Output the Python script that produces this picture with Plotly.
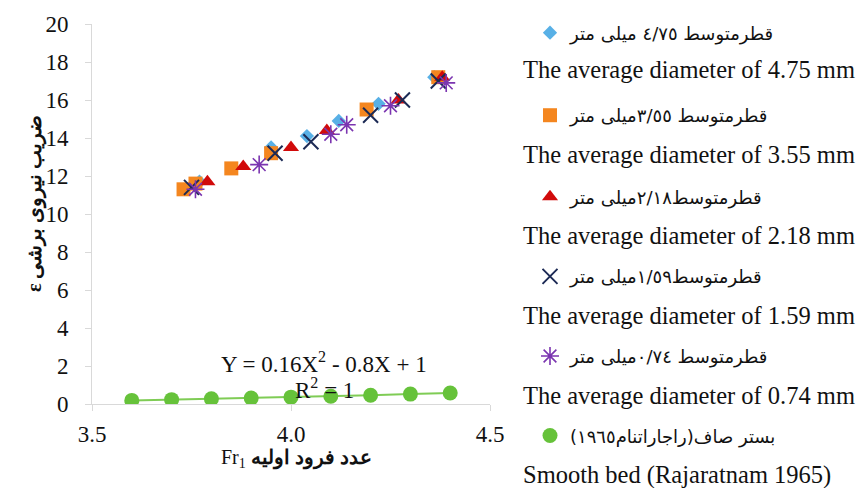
import plotly.graph_objects as go

# Shear force coefficient vs initial Froude number for each bed grain size
fr_475 = [3.77, 3.95, 4.04, 4.12, 4.22, 4.36]
eps_475 = [11.7, 13.5, 14.1, 14.9, 15.8, 17.2]

fr_355 = [3.73, 3.76, 3.85, 3.95, 4.19, 4.37]
eps_355 = [11.3, 11.6, 12.4, 13.2, 15.5, 17.2]

fr_218 = [3.79, 3.88, 4.00, 4.09, 4.27, 4.38]
eps_218 = [11.7, 12.5, 13.5, 14.4, 16.0, 17.2]

fr_159 = [3.75, 3.96, 4.05, 4.20, 4.28, 4.37]
eps_159 = [11.4, 13.2, 13.8, 15.2, 16.0, 17.0]

fr_074 = [3.76, 3.92, 4.10, 4.14, 4.25, 4.39]
eps_074 = [11.3, 12.6, 14.2, 14.7, 15.7, 16.9]

# Smooth bed (Rajaratnam 1965)
fr_smooth = [3.6, 3.7, 3.8, 3.9, 4.0, 4.1, 4.2, 4.3, 4.4]
eps_smooth = [0.19, 0.23, 0.27, 0.31, 0.36, 0.41, 0.46, 0.52, 0.58]

x_ticks = [3.5, 4.0, 4.5]
x_tick_text = ["3.5", "4.0", "4.5"]
y_ticks = [0, 2, 4, 6, 8, 10, 12, 14, 16, 18, 20]

names_fa = [
    "قطرمتوسط ٤/٧٥ میلی متر",
    "قطرمتوسط ٣/٥٥میلی متر",
    "قطرمتوسط٢/١٨میلی متر",
    "قطرمتوسط١/٥٩میلی متر",
    "قطرمتوسط ٠/٧٤میلی متر",
    "بستر صاف(راجاراتنام١٩٦٥)\u200f",
]
names_en = [
    "The average diameter of 4.75 mm",
    "The average diameter of 3.55 mm",
    "The average diameter of 2.18 mm",
    "The average diameter of 1.59 mm",
    "The average diameter of 0.74 mm",
    "Smooth bed (Rajaratnam 1965)",
]

SERIF = "Liberation Serif"
AR = "DejaVu Sans"
INK = "#111111"

fig = go.Figure()

fig.add_trace(go.Scatter(
    x=fr_475, y=eps_475, mode="markers", name=names_fa[0], legend="legend",
    marker=dict(symbol="diamond", size=11, color="#58b0e6")))
fig.add_trace(go.Scatter(
    x=fr_355, y=eps_355, mode="markers", name=names_fa[1], legend="legend2",
    marker=dict(symbol="square", size=14, color="#f4861f")))
fig.add_trace(go.Scatter(
    x=fr_218, y=eps_218, mode="markers", name=names_fa[2], legend="legend3",
    marker=dict(symbol="triangle-up", size=14, color="#d10a0a")))
fig.add_trace(go.Scatter(
    x=fr_159, y=eps_159, mode="markers", name=names_fa[3], legend="legend4",
    marker=dict(symbol="x-thin-open", size=15, color="#1c2a55",
                line=dict(width=2, color="#1c2a55"))))
fig.add_trace(go.Scatter(
    x=fr_074, y=eps_074, mode="markers", name=names_fa[4], legend="legend5",
    marker=dict(symbol="asterisk-open", size=15, color="#7b35b0",
                line=dict(width=1.6, color="#7b35b0"))))
# connecting line of the smooth-bed curve
fig.add_trace(go.Scatter(
    x=fr_smooth, y=eps_smooth, mode="lines", showlegend=False,
    line=dict(color="#7fcc55", width=2), hoverinfo="skip"))
fig.add_trace(go.Scatter(
    x=fr_smooth, y=eps_smooth, mode="markers", name=names_fa[5], legend="legend6",
    marker=dict(symbol="circle", size=15, color="#66c23a")))

# plot area spans pixels 92..490 horizontally and 22..404 vertically
L, R, T, B = 92, 490, 22, 404
W, H = 858, 488


def px_x(p):
    return (p - L) / (R - L)


def px_y(p):
    return (B - p) / (B - T)


fa_rows = [31, 114, 196, 276, 356, 436]
en_rows = [68, 153, 235, 315, 395, 475]

legends = {}
for i, yr in enumerate(fa_rows):
    key = "legend" if i == 0 else f"legend{i + 1}"
    legends[key] = dict(
        x=px_x(530), y=px_y(yr), xanchor="left", yanchor="middle",
        xref="paper", yref="paper",
        bgcolor="rgba(0,0,0,0)", borderwidth=0,
        font=dict(family=AR, size=18, color=INK),
        itemclick=False, itemdoubleclick=False,
    )

annotations = []
for txt, yr in zip(names_en, en_rows):
    annotations.append(dict(
        x=px_x(521), y=px_y(yr), xref="paper", yref="paper",
        xanchor="left", yanchor="middle", showarrow=False, text=txt,
        font=dict(family=SERIF, size=24.5, color=INK)))

# fitted curve equation
annotations.append(dict(
    x=4.083, y=2.2, xref="x", yref="y", showarrow=False,
    text="Y = 0.16X<sup>2</sup> - 0.8X + 1",
    font=dict(family=SERIF, size=23, color=INK)))
annotations.append(dict(
    x=4.083, y=0.8, xref="x", yref="y", showarrow=False,
    text="R<sup>2</sup> = 1",
    font=dict(family=SERIF, size=23, color=INK)))

# axis titles
annotations.append(dict(
    x=px_x(296), y=px_y(459), xref="paper", yref="paper",
    xanchor="center", yanchor="middle", showarrow=False,
    text="Fr<sub>1</sub> <b>عدد فرود اولیه</b>",
    font=dict(family=SERIF, size=20, color=INK)))
annotations.append(dict(
    x=px_x(35), y=px_y(202), xref="paper", yref="paper",
    xanchor="center", yanchor="middle", showarrow=False, textangle=-90,
    text="<b>ε ضریب نیروی برشی</b>",
    font=dict(family=SERIF, size=20, color=INK)))

axis_style = dict(
    showline=True, linecolor="#d9d9d9", linewidth=1,
    ticks="outside", ticklen=6, tickcolor="#d9d9d9", tickwidth=1,
    showgrid=False, zeroline=False,
)

fig.update_layout(
    width=W, height=H,
    margin=dict(l=L, r=W - R, t=T, b=H - B, pad=0),
    paper_bgcolor="white", plot_bgcolor="white",
    font=dict(family=SERIF, size=23, color=INK),
    xaxis=dict(range=[3.5, 4.5], tickvals=x_ticks, ticktext=x_tick_text,
               ticklabelstandoff=3, **axis_style),
    yaxis=dict(range=[0, 20], tickvals=y_ticks, ticklabelstandoff=12, **axis_style),
    annotations=annotations,
    **legends,
)
fig.update_xaxes(tickfont=dict(family=SERIF, size=23, color=INK))
fig.update_yaxes(tickfont=dict(family=SERIF, size=23, color=INK))

fig.write_html("out.html")
